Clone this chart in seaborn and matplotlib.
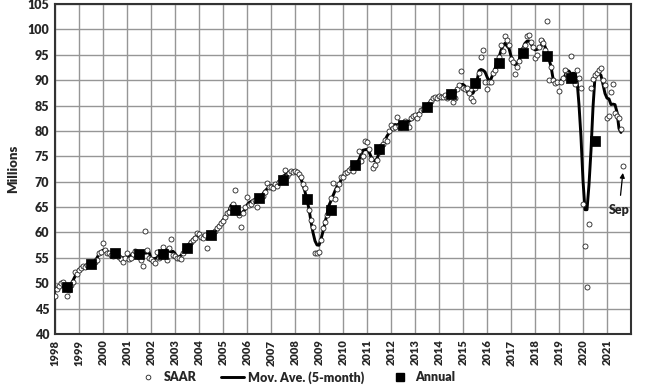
import numpy as np
import pandas as pd
import seaborn as sns
import matplotlib.pyplot as plt
from matplotlib.lines import Line2D

# monthly SAAR values (millions), Jan 1998 - Sep 2021
saar_98_01 = [47.4, 48.9, 49.5, 50.1, 50.3, 49.2, 47.5, 48.6, 49.7, 50.3, 52.3, 51.8,
              52.6, 53.0, 53.4, 53.2, 53.6, 53.9, 53.7, 54.0, 54.2, 54.6, 55.9, 56.2,
              57.9, 56.5, 56.0, 55.9, 55.6, 55.3, 56.0, 55.6, 55.2, 54.8, 54.2, 55.0,
              56.0, 54.7, 55.0, 55.8, 56.3, 55.6, 55.2, 54.6, 53.3, 60.2, 56.5, 55.0]
saar_02_05 = [54.8, 54.3, 54.0, 56.2, 55.0, 55.6, 57.2, 55.8, 54.6, 56.9, 58.7, 55.5,
              55.3, 55.0, 54.9, 54.7, 56.0, 56.8, 57.2, 57.6, 58.2, 58.6, 59.0, 59.8,
              59.6, 59.2, 59.0, 59.5, 56.9, 59.3, 59.8, 59.6, 60.3, 60.8, 61.2, 61.8,
              62.3, 63.0, 63.8, 64.0, 64.8, 65.7, 68.4, 64.2, 63.5, 61.0, 63.8, 65.1]
saar_06_09 = [67.0, 65.5, 65.6, 66.1, 66.4, 65.1, 66.5, 66.8, 67.2, 68.0, 69.7, 69.0,
              69.0, 68.8, 69.5, 69.2, 70.0, 70.3, 71.0, 72.3, 71.2, 71.8, 72.2, 72.0,
              72.2, 72.0, 71.5, 71.0, 69.5, 68.7, 66.5, 64.4, 62.5, 61.1, 56.0, 55.9,
              56.2, 58.5, 60.8, 62.0, 63.5, 64.8, 66.7, 69.7, 66.5, 68.5, 69.5, 71.0]
saar_10_13 = [71.0, 71.8, 72.0, 72.3, 72.6, 72.2, 73.0, 73.5, 76.1, 74.0, 75.0, 78.0,
              77.9, 76.5, 74.5, 72.6, 73.2, 74.3, 75.8, 77.0, 77.5, 78.2, 78.0, 80.0,
              81.2, 80.5, 80.8, 82.8, 81.0, 80.8, 81.5, 82.0, 81.3, 80.8, 82.5, 83.0,
              83.2, 82.6, 83.3, 84.1, 84.3, 84.6, 85.0, 85.4, 85.9, 86.4, 86.7, 86.5]
saar_14_17 = [86.9, 86.6, 86.6, 87.0, 86.5, 87.4, 87.6, 85.7, 86.5, 88.3, 89.0, 91.8,
              88.4, 88.2, 88.4, 87.4, 86.5, 85.8, 88.5, 89.0, 91.4, 94.5, 95.9, 89.7,
              88.3, 89.7, 89.7, 91.5, 92.0, 93.3, 94.5, 96.9, 95.8, 98.7, 97.9, 97.0,
              94.2, 93.5, 91.2, 92.5, 93.8, 95.5, 96.2, 97.0, 98.7, 98.9, 97.5, 96.5]
saar_18_21 = [94.3, 95.0, 96.5, 97.9, 97.4, 96.0, 101.7, 90.0, 92.6, 90.0, 89.5, 89.7,
              87.9, 89.7, 90.5, 92.0, 91.3, 90.8, 94.8, 90.0, 89.2, 92.0, 90.5, 88.5,
              65.6, 57.4, 49.2, 61.7, 88.5, 90.2, 91.1, 91.5, 92.0, 92.3, 90.0, 89.0,
              82.6, 83.0, 87.7, 89.2, 83.5, 83.0, 82.5, 80.3, 73.0]

# annual averages 1998-2020
annual_years = list(range(1998, 2021))
annual = [49.2, 53.8, 55.9, 55.8, 55.8, 56.9, 59.5, 64.4, 66.7, 70.3, 66.6, 64.4,
          73.2, 76.5, 81.1, 84.7, 87.3, 89.4, 93.3, 95.3, 94.7, 90.5, 78.0]

saar = saar_98_01 + saar_02_05 + saar_06_09 + saar_10_13 + saar_14_17 + saar_18_21
df = pd.DataFrame({'t': 1998 + np.arange(len(saar)) / 12, 'saar': saar})
df['ma'] = df['saar'].rolling(5, center=True, min_periods=3).mean()
df_ma = df.iloc[:-1]  # line stops at Aug
ann = pd.DataFrame({'t': np.array(annual_years) + 0.5, 'val': annual})

sns.set_style('white')
plt.rcParams['font.family'] = ['Lato', 'DejaVu Sans']
plt.rcParams['font.weight'] = 'bold'

fig = plt.figure(figsize=(6.61, 3.85), dpi=100)
ax = fig.add_axes([0.0832, 0.1325, 0.8714, 0.8571])

sns.lineplot(data=df_ma, x='t', y='ma', ax=ax, color='black', lw=2.1, zorder=3)
sns.scatterplot(data=df, x='t', y='saar', ax=ax, marker='o', s=13,
                facecolor='white', edgecolor='#222222', linewidth=0.6, zorder=4)
sns.scatterplot(data=ann, x='t', y='val', ax=ax, marker='s', s=42,
                color='black', edgecolor='black', zorder=5)

ax.set_xlim(1998, 2022)
ax.set_ylim(40, 105)
ax.set_xticks(range(1998, 2022))
ax.set_xticklabels([str(y) for y in range(1998, 2022)], rotation=90, fontsize=8, fontweight='heavy')
ax.set_yticks(range(40, 106, 5))
ax.set_yticklabels([str(v) for v in range(40, 106, 5)], fontsize=9, fontweight='heavy')
ax.tick_params(axis='y', length=0, pad=4)
ax.tick_params(axis='x', length=0, pad=4)
ax.grid(True, which='major', color='#969696', lw=1.0)
ax.axvline(2022, color='#969696', lw=1.0)
ax.set_xlabel('')
ax.set_ylabel('Millions', fontsize=9.5, fontweight='heavy', labelpad=6)
for sp in ax.spines.values():
    sp.set_color('#333333')
    sp.set_linewidth(1.5)

ax.annotate('Sep', xy=(2021 + 8 / 12, 72.0), xytext=(2021.5, 64.4),
            ha='center', va='center', fontsize=9, fontweight='heavy',
            arrowprops=dict(arrowstyle='-|>', color='black', lw=0.9,
                            mutation_scale=7, shrinkA=4, shrinkB=1))

handles = [Line2D([], [], marker='o', ls='', markersize=3.4, markerfacecolor='white',
                  markeredgecolor='#222222', markeredgewidth=0.6),
           Line2D([], [], color='black', lw=2.1),
           Line2D([], [], marker='s', ls='', markersize=5.5, color='black')]
fig.legend(handles, ['SAAR', 'Mov. Ave. (5-month)', 'Annual'], loc='center',
           bbox_to_anchor=(0.448, 0.02), ncol=3, frameon=False,
           prop={'weight': 'heavy', 'size': 9},
           handlelength=1.8, columnspacing=2.0, handletextpad=0.3)

fig.savefig('out.png', dpi=100)
